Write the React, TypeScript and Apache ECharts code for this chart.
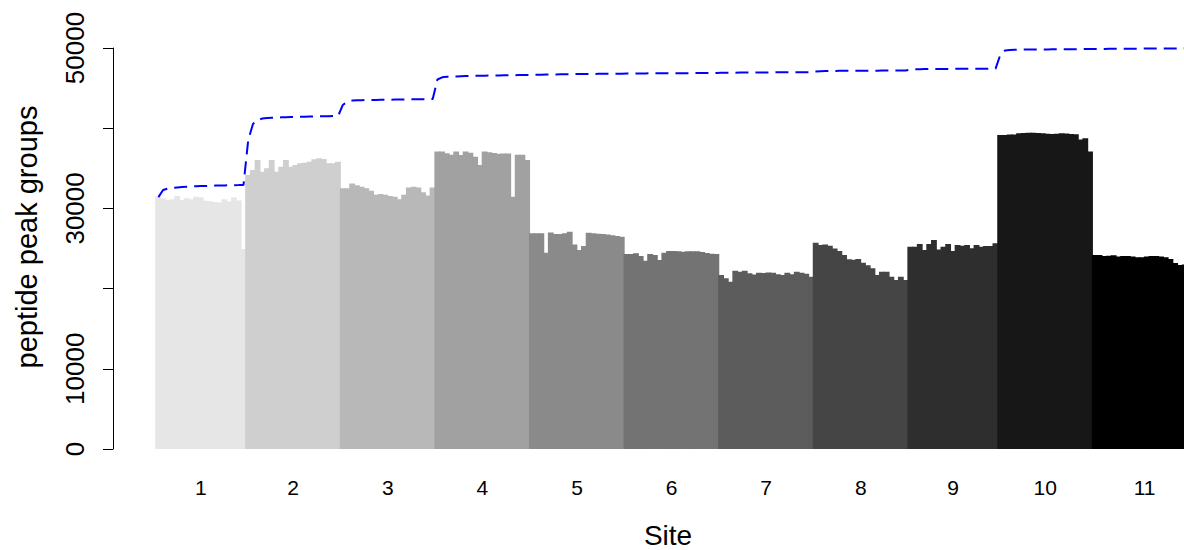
import React, { useEffect, useRef } from "react";
import * as echarts from "echarts";

// ---- data: peptide peak groups per run, grouped by site ----
const siteNames = ["1", "2", "3", "4", "5", "6", "7", "8", "9", "10", "11"];

const site1Peaks = [31460, 31260, 31050, 31150, 31550, 31050, 31260, 31150, 31460, 31350, 30960, 30900, 30800, 30750, 31150, 30850, 31350, 31000, 24940];
const site2Peaks = [34160, 34790, 36030, 34580, 35000, 36030, 34580, 35200, 36030, 35200, 35410, 35620, 35700, 35830, 36130, 36240, 36170, 35620, 35620, 35830];
const site3Peaks = [32500, 32500, 33100, 32900, 32700, 32500, 32200, 31700, 31800, 31700, 31550, 31450, 31150, 31700, 32600, 32700, 32600, 32000, 31600, 32620];
const site4Peaks = [37080, 37080, 36870, 36700, 37080, 36660, 37080, 36950, 36450, 35410, 37080, 37000, 36900, 36800, 36850, 36850, 31460, 36700, 36700, 36030];
const site5Peaks = [26890, 26890, 26900, 24480, 27000, 26800, 26800, 26900, 27100, 25500, 24810, 25300, 26950, 26900, 26850, 26800, 26750, 26650, 26550, 26450];
const site6Peaks = [24310, 24310, 24400, 24060, 23480, 24310, 24200, 23560, 24480, 24690, 24700, 24650, 24600, 24650, 24650, 24650, 24550, 24450, 24350, 24310];
const site7Peaks = [21700, 21280, 20860, 22230, 22110, 22230, 21900, 21750, 21980, 21950, 22000, 21980, 21800, 21700, 21980, 21800, 22110, 21980, 21850, 21490];
const site8Peaks = [25730, 25440, 25500, 25350, 25000, 24700, 24200, 23650, 23600, 23700, 23230, 22900, 22530, 21700, 22110, 22110, 21490, 21070, 21490, 21070];
const site9Peaks = [25230, 25230, 25560, 24810, 25560, 26060, 24890, 25230, 25560, 24690, 25440, 25350, 25440, 25020, 25440, 25230, 25300, 25300, 25640];
const site10Peaks = [39150, 39150, 39230, 39230, 39360, 39400, 39440, 39440, 39400, 39360, 39300, 39280, 39300, 39360, 39340, 39280, 39250, 38600, 38740, 37100];
const site11Peaks = [24190, 24190, 24060, 24100, 24150, 24000, 24050, 24050, 24000, 23900, 23900, 24000, 24060, 24060, 24000, 23900, 23700, 23200, 22940, 23000, 22900, 22900];

// cumulative number of distinct peptide peak groups
const site1Cum = [31400, 32300, 32480, 32560, 32620, 32660, 32700, 32730, 32760, 32780, 32800, 32820, 32840, 32860, 32870, 32890, 32900, 32910, 32930];
const site2Cum = [38530, 40520, 41020, 41210, 41260, 41300, 41330, 41350, 41370, 41390, 41410, 41420, 41440, 41450, 41460, 41480, 41490, 41500, 41510, 41520];
const site3Cum = [42900, 43350, 43450, 43480, 43500, 43510, 43520, 43530, 43540, 43550, 43560, 43570, 43580, 43590, 43600, 43605, 43610, 43615, 43620, 43630];
const site4Cum = [46070, 46340, 46420, 46440, 46460, 46480, 46500, 46520, 46530, 46540, 46550, 46560, 46570, 46580, 46590, 46600, 46610, 46620, 46630, 46640];
const site5Cum = [46660, 46670, 46680, 46690, 46700, 46710, 46720, 46730, 46740, 46750, 46755, 46760, 46765, 46770, 46775, 46780, 46785, 46790, 46795, 46800];
const site6Cum = [46815, 46820, 46825, 46830, 46835, 46840, 46845, 46850, 46852, 46855, 46858, 46860, 46863, 46866, 46869, 46872, 46874, 46876, 46878, 46880];
const site7Cum = [46900, 46910, 46920, 46925, 46930, 46935, 46940, 46945, 46950, 46955, 46958, 46961, 46964, 46967, 46970, 46973, 46976, 46980, 46985, 46990];
const site8Cum = [47060, 47110, 47130, 47140, 47145, 47150, 47155, 47160, 47163, 47166, 47169, 47172, 47175, 47178, 47181, 47184, 47187, 47190, 47195, 47200];
const site9Cum = [47300, 47340, 47360, 47370, 47375, 47380, 47385, 47390, 47394, 47398, 47402, 47406, 47410, 47414, 47418, 47422, 47426, 47430, 47435];
const site10Cum = [49150, 49700, 49760, 49780, 49790, 49800, 49805, 49810, 49815, 49820, 49825, 49830, 49835, 49840, 49845, 49850, 49855, 49860, 49865, 49870];
const site11Cum = [49880, 49885, 49890, 49895, 49900, 49904, 49908, 49912, 49916, 49920, 49924, 49928, 49932, 49936, 49940, 49944, 49948, 49952, 49956, 49960, 49964, 49968];

const yTicks = [0, 10000, 20000, 30000, 40000, 50000];
const yTickLabels = [0, 10000, 30000, 50000];

const xTitle = "Site";
const yTitle = "peptide peak groups";

// styles
const siteColors = ["#e6e6e6", "#cfcfcf", "#b8b8b8", "#a1a1a1", "#8a8a8a", "#737373", "#5c5c5c", "#454545", "#2e2e2e", "#171717", "#000000"];
const FONT = "'Liberation Sans', Arial, Helvetica, sans-serif";

const sitePeaks = [site1Peaks, site2Peaks, site3Peaks, site4Peaks, site5Peaks, site6Peaks, site7Peaks, site8Peaks, site9Peaks, site10Peaks, site11Peaks];
const siteCums = [site1Cum, site2Cum, site3Cum, site4Cum, site5Cum, site6Cum, site7Cum, site8Cum, site9Cum, site10Cum, site11Cum];

export default function App() {
  const ref = useRef<HTMLDivElement>(null);

  useEffect(() => {
    if (!ref.current) return;
    const chart = echarts.init(ref.current, null, { renderer: "svg" });

    const runs: string[] = [];
    const barData: number[][] = [];
    const lineData: number[] = [];
    const centers: number[] = [];
    let count = 0;
    sitePeaks.forEach((arr, s) => {
      centers.push(count + arr.length / 2);
      arr.forEach((v, i) => {
        runs.push(`${siteNames[s]}-${i + 1}`);
        barData.push([count + i, v, s]);
        lineData.push(siteCums[s][i]);
      });
      count += arr.length;
    });
    const total = count;

    const barW = 4.73;

    chart.setOption({
      animation: false,
      backgroundColor: "#ffffff",
      grid: { left: 156, top: 48, width: barW * total, height: 401, containLabel: false },
      xAxis: [
        {
          type: "category",
          data: runs,
          boundaryGap: true,
          axisLine: { show: false },
          axisTick: { show: false },
          axisLabel: { show: false },
          splitLine: { show: false },
        },
        {
          type: "value",
          min: 0,
          max: total,
          position: "bottom",
          axisLine: { show: false, onZero: false },
          axisTick: { show: false },
          splitLine: { show: false },
          axisLabel: {
            show: true,
            customValues: centers,
            margin: 28,
            fontSize: 21,
            fontFamily: FONT,
            color: "#000",
            formatter: (v: number) => {
              const idx = centers.findIndex((c) => Math.abs(c - v) < 0.01);
              return idx >= 0 ? siteNames[idx] : "";
            },
          },
        },
      ],
      yAxis: {
        type: "value",
        min: 0,
        max: 50000,
        interval: 10000,
        position: "left",
        offset: 43,
        axisLine: { show: true, onZero: false, lineStyle: { color: "#000", width: 1 } },
        axisTick: { show: true, length: 10, inside: false, lineStyle: { color: "#000", width: 1 }, customValues: yTicks },
        splitLine: { show: false },
        axisLabel: {
          rotate: 90,
          margin: 25,
          fontSize: 26,
          fontFamily: FONT,
          color: "#000",
          customValues: yTickLabels,
          formatter: (v: number) => (yTickLabels.indexOf(v) >= 0 ? String(v) : ""),
        },
      },
      graphic: [
        {
          type: "text",
          x: 668,
          y: 535,
          style: { text: xTitle, font: `28px ${FONT}`, fill: "#000", textAlign: "center", textVerticalAlign: "middle" },
        },
        {
          type: "text",
          x: 27,
          y: 237,
          rotation: Math.PI / 2,
          style: { text: yTitle, font: `29px ${FONT}`, fill: "#000", textAlign: "center", textVerticalAlign: "middle" },
        },
      ],
      series: [
        {
          type: "custom",
          xAxisIndex: 0,
          data: barData,
          encode: { x: 0, y: 1 },
          z: 2,
          renderItem: (params: any, api: any) => {
            const idx = api.value(0);
            const val = api.value(1);
            const s = api.value(2);
            const top = api.coord([idx, val]);
            const base = api.coord([idx, 0]);
            const w = api.size([1, 0])[0];
            const x0 = top[0] - w / 2 - 0.7;
            return {
              type: "rect",
              shape: { x: x0, y: top[1], width: w + 1.1, height: base[1] - top[1] },
              style: { fill: siteColors[s] },
            };
          },
        },
        {
          type: "line",
          xAxisIndex: 0,
          data: lineData,
          symbol: "none",
          showSymbol: false,
          lineStyle: { color: "#0000ff", width: 2, type: [13, 7] },
          z: 3,
        },
      ],
    });

    return () => chart.dispose();
  }, []);

  return (
    <div style={{ position: "fixed", left: 0, top: 0, width: 1184, height: 550, overflow: "hidden", background: "#fff" }}>
      <div ref={ref} style={{ width: 1210, height: 550 }} />
    </div>
  );
}
